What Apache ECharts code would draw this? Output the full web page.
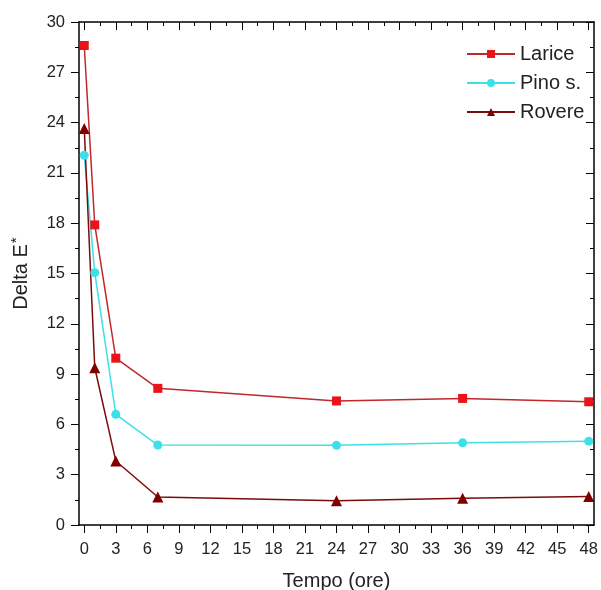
<!DOCTYPE html>
<html>
<head>
<meta charset="utf-8">
<script src="https://cdn.jsdelivr.net/npm/echarts@6/dist/echarts.min.js"></script>
<style>
  html, body { margin: 0; padding: 0; background: #fff; }
  #chart { width: 601px; height: 590px; }
</style>
</head>
<body>
<div id="chart"></div>
<script>
// Sampling times (hours)
const hours = [0, 1, 3, 7, 24, 36, 48];

// Colour difference per wood species
const larice = [28.6, 17.9, 9.95, 8.15, 7.4, 7.55, 7.35];
const pino   = [22.05, 15.05, 6.6, 4.77, 4.75, 4.9, 5.0];
const rovere = [23.65, 9.38, 3.82, 1.67, 1.45, 1.6, 1.7];

// Tick positions
const xMajorTicks = [0, 3, 6, 9, 12, 15, 18, 21, 24, 27, 30, 33, 36, 39, 42, 45, 48];
const xMinorTicks = [1.5, 4.5, 7.5, 10.5, 13.5, 16.5, 19.5, 22.5, 25.5, 28.5, 31.5, 34.5, 37.5, 40.5, 43.5, 46.5];
const yMajorTicks = [0, 3, 6, 9, 12, 15, 18, 21, 24, 27, 30];
const yMinorTicks = [1.5, 4.5, 7.5, 10.5, 13.5, 16.5, 19.5, 22.5, 25.5, 28.5];

const pairs = ys => hours.map((h, i) => [h, ys[i]]);

const FONT = 'Liberation Sans, Arial, sans-serif';
const X_MIN = -0.5, X_MAX = 48.5, Y_MIN = 0, Y_MAX = 30;
const MAJOR_LEN = 8, MINOR_LEN = 4;

function xAxisDef(opts) {
  return Object.assign({
    type: 'value', min: X_MIN, max: X_MAX, gridIndex: 0,
    splitLine: { show: false },
    axisLine: { show: false, onZero: false },
    axisLabel: { show: false },
    axisTick: { show: true, lineStyle: { color: '#000', width: 1 } }
  }, opts);
}
function yAxisDef(opts) {
  return Object.assign({
    type: 'value', min: Y_MIN, max: Y_MAX, gridIndex: 0,
    splitLine: { show: false },
    axisLine: { show: false, onZero: false },
    axisLabel: { show: false },
    axisTick: { show: true, lineStyle: { color: '#000', width: 1 } }
  }, opts);
}

const option = {
  animation: false,
  backgroundColor: '#fff',
  grid: { left: 79, right: 7, top: 22, bottom: 65, containLabel: false, outerBoundsMode: 'none' },
  xAxis: [
    xAxisDef({
      position: 'bottom',
      name: 'Tempo (ore)', nameLocation: 'middle', nameGap: 46,
      nameTextStyle: { fontFamily: FONT, fontSize: 20, color: '#222' },
      axisLine: { show: true, onZero: false, lineStyle: { color: '#000', width: 1.5 } },
      axisTick: { show: true, length: MAJOR_LEN, inside: false, customValues: xMajorTicks, lineStyle: { color: '#000', width: 1 } },
      axisLabel: { show: true, customValues: xMajorTicks, margin: 16, fontFamily: FONT, fontSize: 16.5, color: '#222' }
    }),
    xAxisDef({
      position: 'bottom',
      axisTick: { show: true, length: MINOR_LEN, inside: false, customValues: xMinorTicks, lineStyle: { color: '#000', width: 1 } }
    }),
    xAxisDef({
      position: 'top',
      axisLine: { show: true, onZero: false, lineStyle: { color: '#000', width: 1.5 } },
      axisTick: { show: true, length: MAJOR_LEN, inside: true, customValues: xMajorTicks, lineStyle: { color: '#000', width: 1 } }
    }),
    xAxisDef({
      position: 'top',
      axisTick: { show: true, length: MINOR_LEN, inside: true, customValues: xMinorTicks, lineStyle: { color: '#000', width: 1 } }
    })
  ],
  yAxis: [
    yAxisDef({
      position: 'left',
      name: 'Delta E{sup|*}', nameLocation: 'middle', nameGap: 45, nameRotate: 90,
      nameTextStyle: {
        fontFamily: FONT, fontSize: 20, color: '#222',
        rich: { sup: { fontFamily: FONT, fontSize: 15, color: '#222', verticalAlign: 'top', padding: [0, 0, 10, 1] } }
      },
      axisLine: { show: true, onZero: false, lineStyle: { color: '#000', width: 1.5 } },
      axisTick: { show: true, length: MAJOR_LEN, inside: false, customValues: yMajorTicks, lineStyle: { color: '#000', width: 1 } },
      axisLabel: { show: true, customValues: yMajorTicks, margin: 14, fontFamily: FONT, fontSize: 16.5, color: '#222' }
    }),
    yAxisDef({
      position: 'left',
      axisTick: { show: true, length: MINOR_LEN, inside: false, customValues: yMinorTicks, lineStyle: { color: '#000', width: 1 } }
    }),
    yAxisDef({
      position: 'right',
      axisLine: { show: true, onZero: false, lineStyle: { color: '#000', width: 1.5 } },
      axisTick: { show: true, length: MAJOR_LEN, inside: true, customValues: yMajorTicks, lineStyle: { color: '#000', width: 1 } }
    }),
    yAxisDef({
      position: 'right',
      axisTick: { show: true, length: MINOR_LEN, inside: true, customValues: yMinorTicks, lineStyle: { color: '#000', width: 1 } }
    })
  ],
  legend: {
    orient: 'vertical',
    left: 461, top: 39,
    itemWidth: 48, itemHeight: 10, itemGap: 9,
    textStyle: { fontFamily: FONT, fontSize: 20, color: '#222' },
    data: ['Larice', 'Pino s.', 'Rovere']
  },
  series: [
    {
      name: 'Larice', type: 'line', xAxisIndex: 0, yAxisIndex: 0,
      data: pairs(larice),
      symbol: 'rect', symbolSize: 9,
      lineStyle: { color: '#c0282c', width: 1.5 },
      itemStyle: { color: '#e8141a' }
    },
    {
      name: 'Pino s.', type: 'line', xAxisIndex: 0, yAxisIndex: 0,
      data: pairs(pino),
      symbol: 'circle', symbolSize: 9,
      lineStyle: { color: '#3ce0e6', width: 1.5 },
      itemStyle: { color: '#3ce0e6' }
    },
    {
      name: 'Rovere', type: 'line', xAxisIndex: 0, yAxisIndex: 0,
      data: pairs(rovere),
      symbol: 'triangle', symbolSize: 11,
      lineStyle: { color: '#7a0c0c', width: 1.5 },
      itemStyle: { color: '#800000' }
    }
  ]
};

const chart = echarts.init(document.getElementById('chart'), null, { renderer: 'canvas' });
chart.setOption(option);
</script>
</body>
</html>
